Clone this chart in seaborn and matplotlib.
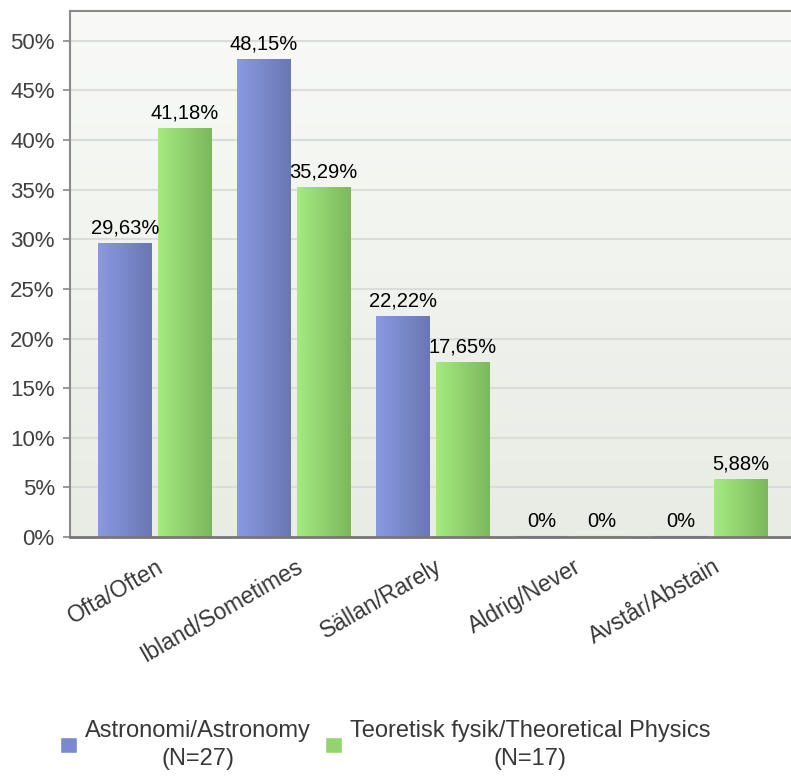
import matplotlib
matplotlib.use("Agg")
import matplotlib.pyplot as plt
from matplotlib.colors import LinearSegmentedColormap
from matplotlib.patches import Patch
from matplotlib.transforms import ScaledTranslation
import seaborn as sns
import numpy as np
import pandas as pd

# Values (percent)
categories = ["Ofta/Often", "Ibland/Sometimes", "Sällan/Rarely",
              "Aldrig/Never", "Avstår/Abstain"]
astro = [29.63, 48.15, 22.22, 0, 0]
theo = [41.18, 35.29, 17.65, 0, 5.88]
groups = ["Astronomi/Astronomy\n(N=27)",
          "Teoretisk fysik/Theoretical Physics\n(N=17)"]
yticks = [0, 5, 10, 15, 20, 25, 30, 35, 40, 45, 50]

df = pd.DataFrame({
    "cat": categories * 2,
    "val": astro + theo,
    "grp": [groups[0]] * len(categories) + [groups[1]] * len(categories),
})

sns.set_theme(style="white")
plt.rcParams['font.family'] = ['Liberation Sans', 'DejaVu Sans']

# gradient colour pairs (left -> right)
grads = [("#8A9AE2", "#6A77B3"), ("#A5EB80", "#7CB75D")]
mids = ["#7B89CF", "#92D56F"]

fig = plt.figure(figsize=(7.91, 7.76), dpi=100)
ax = fig.add_axes([70 / 791, 1 - 537 / 776, 1 - 70 / 791, (537 - 11) / 776])

sns.barplot(data=df, x="cat", y="val", hue="grp", order=categories,
            hue_order=groups, palette=mids, width=0.86, gap=0.1,
            legend=False, ax=ax, zorder=3, linewidth=0, saturation=1)

# background vertical gradient
bg = LinearSegmentedColormap.from_list("bg", ["#E8ECE4", "#F9FAF8"])
ax.imshow(np.linspace(0, 1, 256).reshape(-1, 1), cmap=bg, origin="lower",
          extent=[0, 1, 0, 1], transform=ax.transAxes, aspect="auto",
          zorder=0)

# horizontal gradient inside each bar
for k, cont in enumerate(ax.containers):
    cmap = LinearSegmentedColormap.from_list("g", list(grads[k]))
    for p in cont.patches:
        x0, y0 = p.get_x(), p.get_y()
        w, h = p.get_width(), p.get_height()
        if h <= 0:
            p.set_edgecolor(mids[k])
            p.set_linewidth(1.5)
            continue
        im = ax.imshow(np.linspace(0, 1, 256).reshape(1, -1), cmap=cmap,
                       extent=[x0, x0 + w, y0, y0 + h], aspect="auto",
                       zorder=3.5)
        im.set_clip_path(p)

for cont in ax.containers:
    labs = [("%.2f%%" % v).replace(".", ",") if v > 0 else "0%"
            for v in cont.datavalues]
    ax.bar_label(cont, labels=labs, padding=4, fontsize=14.5, color="black",
                 zorder=5)

ax.set_xlim(-0.61, 4.576)
ax.set_ylim(0, 53)
ax.set_yticks(yticks)
ax.set_yticklabels(["%d%%" % t for t in yticks])
ax.yaxis.grid(True, color="#DCDDDB", linewidth=1.5, zorder=1)
ax.set_axisbelow(True)
ax.set_xlabel("")
ax.set_ylabel("")

ax.tick_params(axis="y", left=True, length=5, width=1.2, color="#888888",
               labelsize=16, labelcolor="#404040", pad=6)
ax.tick_params(axis="x", bottom=False, labelsize=16.5, labelcolor="#383838",
               pad=7)
shift = ScaledTranslation(1 / 72, 0, fig.dpi_scale_trans)
for lab in ax.get_xticklabels():
    lab.set_rotation(30)
    lab.set_ha("right")
    lab.set_rotation_mode("anchor")
    lab.set_transform(lab.get_transform() + shift)

for s in ["left", "top", "bottom"]:
    ax.spines[s].set_visible(True)
ax.spines["right"].set_visible(False)
ax.spines["left"].set_color("#8A8A8A")
ax.spines["left"].set_linewidth(1.5)
ax.spines["top"].set_color("#8A8A8A")
ax.spines["top"].set_linewidth(1.5)
ax.spines["bottom"].set_color("#777777")
ax.spines["bottom"].set_linewidth(2)
for s in ax.spines.values():
    s.set_zorder(6)

handles = [Patch(facecolor=mids[0]), Patch(facecolor=mids[1])]
leg = fig.legend(handles, groups, loc="center",
                 bbox_to_anchor=(385 / 791, 1 - 745 / 776), ncol=2,
                 frameon=False, handlelength=0.72, handleheight=0.64,
                 handletextpad=0.34, columnspacing=0.6,
                 prop={"size": 17})
for t in leg.get_texts():
    t.set_multialignment("center")
    t.set_linespacing(1.35)
    t.set_color("#383838")

fig.savefig("out.png", dpi=100)
